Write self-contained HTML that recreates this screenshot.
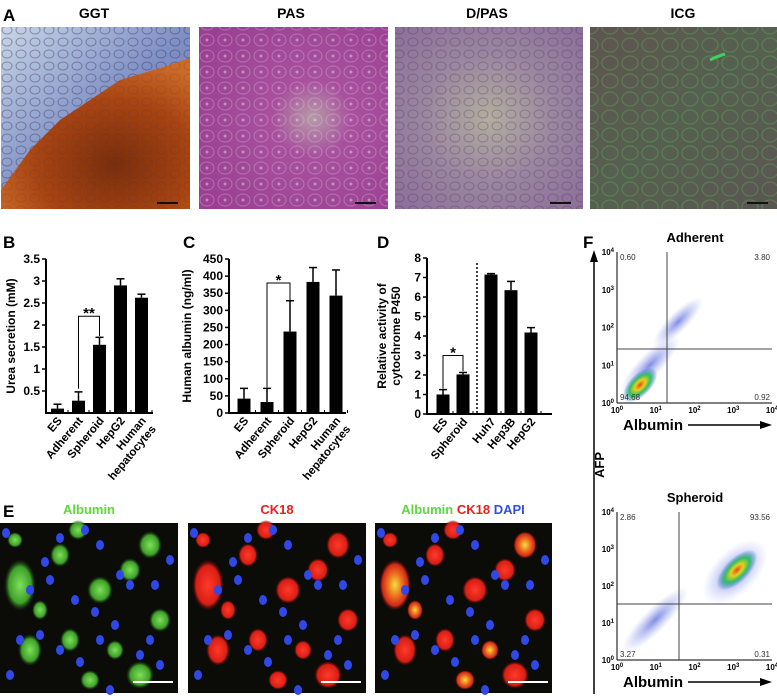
<!DOCTYPE html>
<html><head><meta charset="utf-8">
<style>
html,body{margin:0;padding:0;background:#fff;}
svg{display:block;font-family:"Liberation Sans",Arial,sans-serif;}
.b{font-weight:bold;}
</style></head>
<body>
<svg id="fig" width="777" height="696" viewBox="0 0 777 696" xmlns="http://www.w3.org/2000/svg">
<defs>
  <linearGradient id="ggtBlue" x1="0" y1="0" x2="1" y2="1">
    <stop offset="0" stop-color="#c8d6e6"/><stop offset="0.5" stop-color="#7f90c6"/><stop offset="1" stop-color="#6d78b8"/>
  </linearGradient>
  <radialGradient id="ggtOr" cx="0.6" cy="0.7" r="0.7">
    <stop offset="0" stop-color="#7a2e0c"/><stop offset="0.6" stop-color="#a84412"/><stop offset="1" stop-color="#cc6a28"/>
  </radialGradient>
  <radialGradient id="pas" cx="0.6" cy="0.5" r="0.7">
    <stop offset="0" stop-color="#b69aa8"/><stop offset="0.3" stop-color="#a8509e"/><stop offset="1" stop-color="#9a3f92"/>
  </radialGradient>
  <radialGradient id="dpas" cx="0.5" cy="0.5" r="0.7">
    <stop offset="0" stop-color="#b4ad9f"/><stop offset="0.5" stop-color="#9a86a0"/><stop offset="1" stop-color="#8c6e9a"/>
  </radialGradient>
  <linearGradient id="icg" x1="0" y1="0" x2="1" y2="1">
    <stop offset="0" stop-color="#5f5450"/><stop offset="0.5" stop-color="#566050"/><stop offset="1" stop-color="#5b5552"/>
  </linearGradient>
  <pattern id="cellsLight" width="18" height="16" patternUnits="userSpaceOnUse">
    <ellipse cx="9" cy="8" rx="7" ry="6" fill="none" stroke="#e8d8f0" stroke-opacity="0.3" stroke-width="1"/>
    <circle cx="9" cy="8" r="1.5" fill="#f0e8f0" fill-opacity="0.45"/>
  </pattern>
  <pattern id="cellsDark" width="14" height="12" patternUnits="userSpaceOnUse">
    <ellipse cx="7" cy="6" rx="5" ry="4" fill="none" stroke="#3a2a50" stroke-opacity="0.3" stroke-width="1"/>
  </pattern>
  <pattern id="cellsGreen" width="20" height="18" patternUnits="userSpaceOnUse">
    <ellipse cx="10" cy="9" rx="8" ry="7" fill="none" stroke="#5acf5a" stroke-opacity="0.3" stroke-width="1.2"/>
  </pattern>
  <radialGradient id="blueCloud" cx="0.5" cy="0.5" r="0.5">
    <stop offset="0" stop-color="#6a78e0" stop-opacity="0.85"/><stop offset="1" stop-color="#9aa6f0" stop-opacity="0"/>
  </radialGradient>
  <radialGradient id="core" cx="0.5" cy="0.5" r="0.5">
    <stop offset="0" stop-color="#e04a20"/><stop offset="0.3" stop-color="#e8d020"/><stop offset="0.6" stop-color="#30c060"/><stop offset="1" stop-color="#3060e0" stop-opacity="0"/>
  </radialGradient>
  <radialGradient id="gcell" cx="0.5" cy="0.5" r="0.5">
    <stop offset="0" stop-color="#7ee05a"/><stop offset="0.7" stop-color="#3fa02a"/><stop offset="1" stop-color="#1a3a10" stop-opacity="0"/>
  </radialGradient>
  <radialGradient id="rcell" cx="0.5" cy="0.5" r="0.5">
    <stop offset="0" stop-color="#ff3a2a"/><stop offset="0.75" stop-color="#d81e14"/><stop offset="1" stop-color="#400808" stop-opacity="0"/>
  </radialGradient>
  <radialGradient id="ycell" cx="0.5" cy="0.5" r="0.5">
    <stop offset="0" stop-color="#f0e040"/><stop offset="0.4" stop-color="#f07a20"/><stop offset="0.8" stop-color="#d02818"/><stop offset="1" stop-color="#400808" stop-opacity="0"/>
  </radialGradient>
</defs>

<!-- Panel A -->
<text x="3" y="21" font-size="17" class="b">A</text>
<text x="94" y="18" font-size="14" class="b" text-anchor="middle">GGT</text>
<text x="291" y="18" font-size="14" class="b" text-anchor="middle">PAS</text>
<text x="487" y="18" font-size="14" class="b" text-anchor="middle">D/PAS</text>
<text x="683" y="18" font-size="14" class="b" text-anchor="middle">ICG</text>

<g>
  <rect x="1" y="27" width="189" height="182" fill="url(#ggtBlue)"/>
  <rect x="1" y="27" width="189" height="182" fill="url(#cellsDark)"/>
  <polygon points="1,190 30,150 60,120 90,100 120,80 160,68 190,58 190,209 1,209" fill="url(#ggtOr)"/>
  <rect x="1" y="27" width="189" height="182" fill="url(#cellsDark)" opacity="0.5"/>
  <line x1="157" y1="203" x2="178" y2="203" stroke="#111" stroke-width="2"/>
</g>
<g>
  <rect x="199" y="27" width="189" height="182" fill="url(#pas)"/>
  <rect x="199" y="27" width="189" height="182" fill="url(#cellsLight)"/>
  <line x1="355" y1="203" x2="376" y2="203" stroke="#111" stroke-width="2"/>
</g>
<g>
  <rect x="395" y="27" width="188" height="182" fill="url(#dpas)"/>
  <rect x="395" y="27" width="188" height="182" fill="url(#cellsDark)"/>
  <line x1="550" y1="203" x2="571" y2="203" stroke="#111" stroke-width="2"/>
</g>
<g>
  <rect x="590" y="27" width="187" height="182" fill="url(#icg)"/>
  <rect x="590" y="27" width="187" height="182" fill="url(#cellsGreen)"/>
  <path d="M710 60 q8 -4 15 -6" stroke="#3fd060" stroke-width="3" fill="none"/>
  <line x1="747" y1="203" x2="768" y2="203" stroke="#111" stroke-width="2"/>
</g>

<!-- Bar charts -->
<text x="3" y="248" font-size="17" class="b">B</text>
<text x="183" y="248" font-size="17" class="b">C</text>
<text x="377" y="248" font-size="17" class="b">D</text>
<text x="583" y="248" font-size="17" class="b">F</text>
<text x="3" y="517" font-size="17" class="b">E</text>

<g id="chartB"></g>
<g id="chartC"></g>
<g id="chartD"></g>

<text transform="translate(15,336) rotate(-90)" font-size="12" class="b" text-anchor="middle">Urea secretion (mM)</text>
<text transform="translate(191,336) rotate(-90)" font-size="12" class="b" text-anchor="middle">Human albumin (ng/ml)</text>
<text transform="translate(386,336) rotate(-90)" font-size="12" class="b" text-anchor="middle"><tspan x="0" dy="0">Relative activity of</tspan><tspan x="0" dy="14">cytochrome P450</tspan></text>

<!-- Panel E -->
<text x="89" y="514" font-size="13" class="b" fill="#5ed83a" text-anchor="middle">Albumin</text>
<text x="277" y="514" font-size="13" class="b" fill="#e82020" text-anchor="middle">CK18</text>
<text x="463" y="514" font-size="13" class="b" text-anchor="middle"><tspan fill="#5ed83a">Albumin </tspan><tspan fill="#e82020">CK18 </tspan><tspan fill="#3050e0">DAPI</tspan></text>
<g id="imgE1"></g>
<g id="imgE2"></g>
<g id="imgE3"></g>

<!-- Panel F -->
<line x1="594" y1="694" x2="594" y2="258" stroke="#000" stroke-width="1.5"/>
<polygon points="594,250 590,262 598,262" fill="#000"/>
<text transform="translate(604,465) rotate(-90)" font-size="13" class="b" text-anchor="middle">AFP</text>
<g id="flowA"></g>
<g id="flowS"></g>
</svg>

<script>
// ---- Chart data ----
const catsB = ["ES","Adherent","Spheroid","HepG2","Human|hepatocytes"];
const valsB = [0.1,0.28,1.55,2.9,2.62];
const errB = [0.1,0.2,0.17,0.15,0.08];
const ticksB = [0.5,1,1.5,2,2.5,3,3.5];
const tickLabelsB = ["0.5","1","1.5","2","2.5","3","3.5"];

const catsC = ["ES","Adherent","Spheroid","HepG2","Human|hepatocytes"];
const valsC = [42,32,238,383,343];
const errC = [30,40,90,42,75];
const ticksC = [0,50,100,150,200,250,300,350,400,450];
const tickLabelsC = ["0","50","100","150","200","250","300","350","400","450"];

const catsD = ["ES","Spheroid","Huh7","Hep3B","HepG2"];
const valsD = [1,2.03,7.15,6.35,4.18];
const errD = [0.25,0.1,0.05,0.45,0.25];
const ticksD = [0,1,2,3,4,5,6,7,8];
const tickLabelsD = ["0","1","2","3","4","5","6","7","8"];

const quadAdherent = ["0.60","3.80","94.68","0.92"];
const quadSpheroid = ["2.86","93.56","3.27","0.31"];

const NS = "http://www.w3.org/2000/svg";
function mk(tag, attrs, parent){
  const e = document.createElementNS(NS, tag);
  for (const k in attrs) e.setAttribute(k, attrs[k]);
  parent.appendChild(e);
  return e;
}

function barChart(gid, cats, vals, errs, ticks, labels, cfg){
  const g = document.getElementById(gid);
  const y = v => cfg.y0 - (v - 0) / cfg.vmax * (cfg.y0 - cfg.ytop);
  const x = i => cfg.x0 + cfg.first + i * cfg.step + (cfg.gapAfter !== undefined && i > cfg.gapAfter ? cfg.gap : 0);
  const ya = mk("line",{x1:cfg.ax,y1:cfg.ytop,x2:cfg.ax,y2:cfg.y0,stroke:"#000","stroke-width":2},g);
  
  
  const xa = mk("line",{x1:cfg.ax-1,y1:cfg.y0,x2:cfg.xend,y2:cfg.y0,stroke:"#000","stroke-width":2},g);
  
  
  ticks.forEach((t,i)=>{
    const tl = mk("line",{x1:cfg.ax-4,y1:y(t),x2:cfg.ax,y2:y(t),stroke:"#000","stroke-width":1.5},g);
    
    
    const tx = mk("text",{x:cfg.ax-6,y:y(t)+4,"font-size":12,"font-weight":"bold","text-anchor":"end"},g);
    tx.textContent = labels[i];
    
    
  });
  vals.forEach((v,i)=>{
    const cx = x(i);
    const ey = y(v+errs[i]);
    const el = mk("line",{x1:cx,y1:y(v),x2:cx,y2:ey,stroke:"#000","stroke-width":1.5},g);
    
    
    const ec = mk("line",{x1:cx-4,y1:ey,x2:cx+4,y2:ey,stroke:"#000","stroke-width":1.5},g);
    
    
    const r = mk("rect",{x:cx-cfg.bw/2,y:y(v),width:cfg.bw,height:cfg.y0-y(v),fill:"#000"},g);
    
    
    const mt = mk("line",{x1:cx+cfg.step/2,y1:cfg.y0,x2:cx+cfg.step/2,y2:cfg.y0-3,stroke:"#000","stroke-width":1},g);
    
    
    const parts = cats[i].split('|');
    const lab = mk("text",{transform:`translate(${cx+5},${cfg.y0+8}) rotate(-50)`,"font-size":11.5,"font-weight":"bold","text-anchor":"end"},g);
    parts.forEach((p,k)=>{
      const ts = mk("tspan",{x:0,dy:k===0?0:13},lab);
      ts.textContent = p;
    });
    
    
  });
  const b = cfg.br;
  const xl = x(b.i), xr = x(b.j);
  const br = mk("polyline",{points:`${xl},${y(b.l)} ${xl},${y(b.top)} ${xr},${y(b.top)} ${xr},${y(b.r)}`,fill:"none",stroke:"#000","stroke-width":1},g);
  
  
  const st = mk("text",{x:(xl+xr)/2,y:y(b.top)+2,"font-size":15,"font-weight":"bold","text-anchor":"middle"},g);
  st.textContent = b.star;
  
  
  if (cfg.gapAfter !== undefined){
    const dx = x(cfg.gapAfter) + (x(cfg.gapAfter+1)-x(cfg.gapAfter))/2;
    const dl = mk("line",{x1:dx,y1:cfg.ytop+5,x2:dx,y2:cfg.y0,stroke:"#000","stroke-width":1.5,"stroke-dasharray":"2,2"},g);
    
    
  }
}

barChart("chartB", catsB, valsB, errB, ticksB, tickLabelsB,
  {ax:46,x0:46,first:11.5,step:21,bw:13,y0:413,ytop:259,vmax:3.5,xend:153,
   br:{i:1,j:2,top:2.2,l:0.55,r:1.75,star:"**"}});
barChart("chartC", catsC, valsC, errC, ticksC, tickLabelsC,
  {ax:229,x0:229,first:15,step:23,bw:13,y0:413,ytop:259,vmax:450,xend:346,
   br:{i:1,j:2,top:380,l:75,r:330,star:"*"}});
barChart("chartD", catsD, valsD, errD, ticksD, tickLabelsD,
  {ax:427,x0:427,first:16,step:20,bw:13,y0:414,ytop:258,vmax:8,xend:552,gapAfter:1,gap:8,
   br:{i:0,j:1,top:3.0,l:1.3,r:2.2,star:"*"}});

// ---- Flow plots ----
function flow(gid, cfg, quads){
  const g = document.getElementById(gid);
  const t = mk("text",{x:cfg.x0+78,y:cfg.y0-10,"font-size":13,"font-weight":"bold","text-anchor":"middle"},g);
  t.textContent = cfg.title;
  
  
  const W=155,H=cfg.h;
  mk("line",{x1:cfg.x0,y1:cfg.y0,x2:cfg.x0,y2:cfg.y0+H,stroke:"#000","stroke-width":1},g);
  mk("line",{x1:cfg.x0,y1:cfg.y0+H,x2:cfg.x0+W,y2:cfg.y0+H,stroke:"#000","stroke-width":1},g);
  cfg.clouds.forEach(c=>{
    const e = mk("ellipse",{cx:c[0],cy:c[1],rx:c[2],ry:c[3],fill:c[4],transform:`rotate(45 ${c[0]} ${c[1]})`},g);
    
    
  });
  mk("line",{x1:cfg.qx,y1:cfg.y0,x2:cfg.qx,y2:cfg.y0+H,stroke:"#444","stroke-width":1},g);
  mk("line",{x1:cfg.x0,y1:cfg.qy,x2:cfg.x0+W,y2:cfg.qy,stroke:"#444","stroke-width":1},g);
  const exps=["0","1","2","3","4"];
  exps.forEach((e,i)=>{
    const xx = cfg.x0 + i*W/4;
    const tx = mk("text",{x:xx,y:cfg.y0+H+10,"font-size":8,"font-weight":"bold","text-anchor":"middle"},g);
    tx.innerHTML = '10<tspan dy="-3" font-size="6">'+e+'</tspan>';
    
    
    const yy = cfg.y0 + H - i*H/4;
    const ty = mk("text",{x:cfg.x0-3,y:yy+3,"font-size":8,"font-weight":"bold","text-anchor":"end"},g);
    ty.innerHTML = '10<tspan dy="-3" font-size="6">'+e+'</tspan>';
    
    
  });
  const pos = [[cfg.x0+3,cfg.y0+8,"start"],[cfg.x0+W-2,cfg.y0+8,"end"],[cfg.x0+3,cfg.y0+H-3,"start"],[cfg.x0+W-2,cfg.y0+H-3,"end"]];
  quads.forEach((q,i)=>{
    const qt = mk("text",{x:pos[i][0],y:pos[i][1],"font-size":8,fill:"#333","text-anchor":pos[i][2]},g);
    qt.textContent = q;
    
    
  });
  const al = mk("text",{x:cfg.x0+6,y:cfg.y0+H+27,"font-size":15,"font-weight":"bold"},g);
  al.textContent = "Albumin";
  
  
  mk("line",{x1:688,y1:cfg.y0+H+22,x2:764,y2:cfg.y0+H+22,stroke:"#000","stroke-width":1.5},g);
  mk("polygon",{points:`772,${cfg.y0+H+22} 760,${cfg.y0+H+18} 760,${cfg.y0+H+26}`,fill:"#000"},g);
}
flow("flowA",{title:"Adherent",x0:617,y0:252,h:151,qx:667,qy:349,
  clouds:[[678,322,10,34,"url(#blueCloud)"],[650,365,12,40,"url(#blueCloud)"],[640,385,11,22,"url(#core)"]]}, quadAdherent);
flow("flowS",{title:"Spheroid",x0:617,y0:512,h:148,qx:679,qy:604,
  clouds:[[655,620,12,45,"url(#blueCloud)"],[735,572,22,40,"url(#blueCloud)"],[737,570,12,26,"url(#core)"]]}, quadSpheroid);

// ---- Panel E micrographs (decorative cells) ----
const cellsE = [[20,585,16,26],[60,555,10,12],[78,530,10,10],[40,610,8,10],[100,590,13,14],[130,570,11,12],[150,545,12,14],
  [30,650,12,16],[70,640,10,12],[115,650,9,10],[140,675,14,14],[160,620,11,12],[90,680,10,10],[15,540,8,8]];
const nucE = [[6,533],[30,590],[45,562],[60,538],[85,530],[100,545],[120,575],[130,585],[155,585],[170,560],[20,640],[40,635],[60,650],[80,662],[100,640],[115,625],[140,655],[160,665],[10,675],[110,690],[150,640],[75,600],[95,612],[50,580]];
function micro(gid, x0, w, cellGrad, alt){
  const g = document.getElementById(gid);
  mk("rect",{x:x0,y:523,width:w,height:170,fill:"#0b0b08"},g);
  cellsE.forEach((c,i)=>{
    const grad = (alt && i%3===0) ? alt : cellGrad;
    const e = mk("ellipse",{cx:x0+c[0],cy:c[1],rx:c[2],ry:c[3],fill:grad},g);
    
    
  });
  nucE.forEach(n=>{
    const e = mk("ellipse",{cx:x0+n[0],cy:n[1],rx:4,ry:5,fill:"#3048e8"},g);
    
    
  });
  mk("line",{x1:x0+133,y1:682,x2:x0+173,y2:682,stroke:"#fff","stroke-width":2},g);
}
micro("imgE1",0,178,"url(#gcell)");
micro("imgE2",188,178,"url(#rcell)");
micro("imgE3",375,177,"url(#rcell)","url(#ycell)");
</script>
</body></html>
